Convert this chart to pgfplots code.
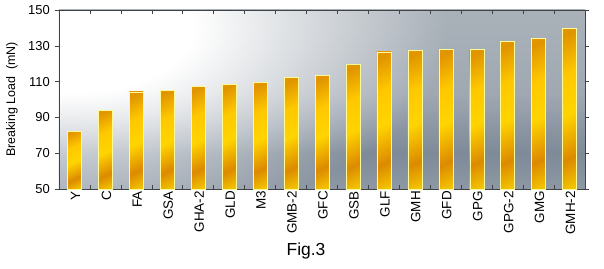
\documentclass[border=0pt]{standalone}
\usepackage{pgfplots}
\pgfplotsset{compat=1.18}
\usetikzlibrary{fadings}
\usepackage{fontspec}
\setmainfont{Liberation Sans}
\definecolor{frame}{HTML}{404448}
\definecolor{bg0}{HTML}{B0B8C0}
\definecolor{bg1}{HTML}{A6AEB8}
\definecolor{bg2}{HTML}{7E8A98}
\definecolor{bg3}{HTML}{A0A8B2}
\definecolor{bg4}{HTML}{A8B0B8}
\definecolor{bg5}{HTML}{B0B6BC}
\definecolor{by0}{HTML}{FFFF10}
\definecolor{by1}{HTML}{FFE000}
\definecolor{bo1}{HTML}{DC8A00}
\definecolor{by2}{HTML}{FFD400}
\definecolor{by3}{HTML}{FFC800}
\definecolor{bo2}{HTML}{E09400}
\definecolor{by4}{HTML}{F4BC00}
\pgfdeclareverticalshading{bgshade}{100bp}{%
  color(0bp)=(bg0);
  color(10bp)=(bg1);
  color(35bp)=(bg2);
  color(52bp)=(bg3);
  color(72bp)=(bg4);
  color(100bp)=(bg5)}
\pgfdeclareverticalshading{barshade}{100bp}{%
  color(0bp)=(by0);
  color(12bp)=(by1);
  color(30bp)=(bo1);
  color(48bp)=(by2);
  color(64bp)=(by3);
  color(80bp)=(bo2);
  color(100bp)=(by4)}
\pgfdeclareradialshading{glowshade}{\pgfpointorigin}{%
  color(0bp)=(white);
  color(8bp)=(white);
  color(25bp)=(black);
  color(50bp)=(black)}
\tikzfading[name=glow, shading=glowshade]
\pgfplotsset{bstyle/.style={ybar, bar width=14bp, bar shift=0pt, shade, shading=barshade, shading angle=25, draw=yellow!40!white, line width=0.4pt}}
\begin{document}
\begin{tikzpicture}
\begin{axis}[
  name=ax,
  scale only axis,
  width=526bp, height=179bp,
  xmin=-0.5, xmax=16.5,
  ymin=50, ymax=150,
  ytick={50,70,90,110,130,150},
  xtick={0,...,16},
  xticklabels={Y,C,FA,GSA,GHA-2,GLD,M3,GMB-2,GFC,GSB,GLF,GMH,GFD,GPG,GPG-2,GMG,GMH-2},
  minor xtick={0.5,1.5,...,15.5},
  major x tick style={draw=none},
  minor x tick style={frame, line width=0.6pt},
  minor tick length=4bp,
  xtick align=inside,
  ytick align=outside,
  major tick length=4bp,
  y tick style={frame, line width=0.6pt},
  axis line style={frame, line width=0.8pt},
  xticklabel style={font=\fontsize{13.5}{15}\selectfont, rotate=90, anchor=east, inner sep=2bp, yshift=-1bp},
  yticklabel style={font=\fontsize{13}{15}\selectfont, inner sep=2bp, xshift=-3bp},
  /pgf/number format/assume math mode=true,
  ylabel={Breaking Load\ \ (mN)},
  ylabel style={font=\fontsize{12.5}{14}\selectfont},
  every axis y label/.append style={at={(axis description cs:-0.0894,0.5)}, anchor=center},
  axis background/.style={
    preaction={shade, shading=bgshade},
    fill=white, path fading=glow, fit fading=false,
    fading transform={xshift=15bp, yshift=160bp, xscale=15, yscale=8}},
]
\addplot[bstyle] coordinates {(0,82.4)};
\addplot[bstyle] coordinates {(1,94)};
\addplot[bstyle] coordinates {(2,104.2)};
\addplot[bstyle] coordinates {(3,105.1)};
\addplot[bstyle] coordinates {(4,107.4)};
\addplot[bstyle] coordinates {(5,108.5)};
\addplot[bstyle] coordinates {(6,109.4)};
\addplot[bstyle] coordinates {(7,112.2)};
\addplot[bstyle] coordinates {(8,113.3)};
\addplot[bstyle] coordinates {(9,119.5)};
\addplot[bstyle] coordinates {(10,126.7)};
\addplot[bstyle] coordinates {(11,127.5)};
\addplot[bstyle] coordinates {(12,128)};
\addplot[bstyle] coordinates {(13,128)};
\addplot[bstyle] coordinates {(14,132.5)};
\addplot[bstyle] coordinates {(15,134.2)};
\addplot[bstyle] coordinates {(16,139.9)};
\end{axis}
\node[font=\fontsize{17.5}{19}\selectfont] at ([shift={(247bp,-62bp)}]ax.south west) {Fig.3};
\pgfresetboundingbox
\path ([shift={(-59bp,-80bp)}]ax.south west) rectangle ([shift={(19bp,10bp)}]ax.north east);
\end{tikzpicture}
\end{document}
